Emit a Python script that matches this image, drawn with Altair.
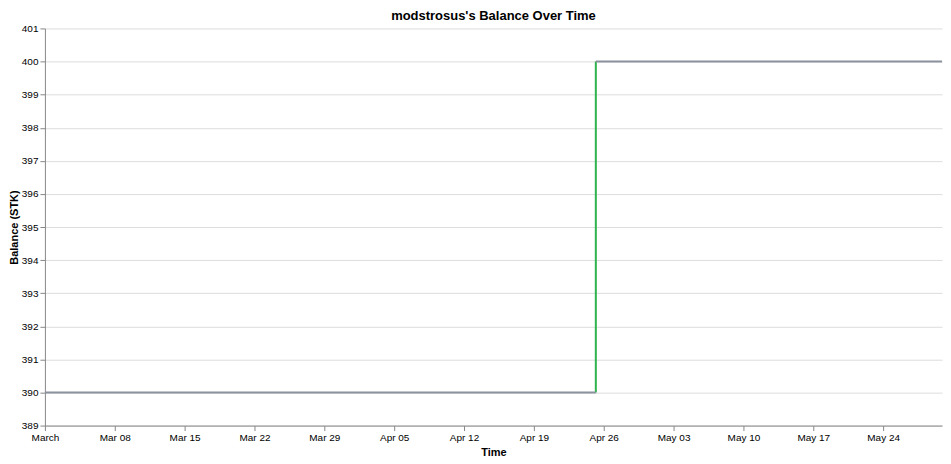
import altair as alt
import pandas as pd

# Balance history (step points)
times = ["2026-03-01T00:00:00", "2026-04-25T05:00:00", "2026-05-29T21:36:00"]
balances = [390, 400, 400]
y_ticks = list(range(389, 402))

title_text = "modstrosus's Balance Over Time"
gray = "#8a929e"
green = "#2eb44c"
red = "#d62728"

# horizontal segments: value held from one time to the next
h_rows = []
for i in range(len(times) - 1):
    h_rows.append({"t": times[i], "t2": times[i + 1], "b": balances[i]})
# vertical segments: change at a time
v_rows = []
for i in range(1, len(times)):
    if balances[i] != balances[i - 1]:
        v_rows.append({"t": times[i], "b": balances[i - 1], "b2": balances[i],
                       "dir": "up" if balances[i] > balances[i - 1] else "down"})

hdf = pd.DataFrame(h_rows)
vdf = pd.DataFrame(v_rows)

xscale = alt.Scale(domain=[times[0], times[-1]], nice=False)
yscale = alt.Scale(domain=[min(balances) - 1, max(balances) + 1], nice=False, zero=False)
xaxis = alt.Axis(grid=False, labelFlush=False)
yaxis = alt.Axis(values=y_ticks, labelOverlap=False, titlePadding=2)

horiz = alt.Chart(hdf).mark_rule(color=gray, strokeWidth=2).encode(
    x=alt.X("t:T", scale=xscale, title="Time", axis=xaxis),
    x2="t2:T",
    y=alt.Y("b:Q", scale=yscale, title="Balance (STK)", axis=yaxis),
)

vert = alt.Chart(vdf).mark_rule(strokeWidth=2).encode(
    x=alt.X("t:T", scale=xscale, title="Time", axis=xaxis),
    y=alt.Y("b:Q", scale=yscale, title="Balance (STK)", axis=yaxis),
    y2="b2:Q",
    color=alt.Color("dir:N", scale=alt.Scale(domain=["up", "down"], range=[green, red]), legend=None),
)

chart = alt.layer(vert, horiz).properties(
    width=899, height=398,
    title=alt.TitleParams(title_text, offset=0),
    padding={"left": 0, "top": 2, "right": 0, "bottom": 0}
).configure(font="Liberation Sans").configure_view(stroke=None)

chart.save("out.html", embed_options={"renderer": "svg", "actions": False})
